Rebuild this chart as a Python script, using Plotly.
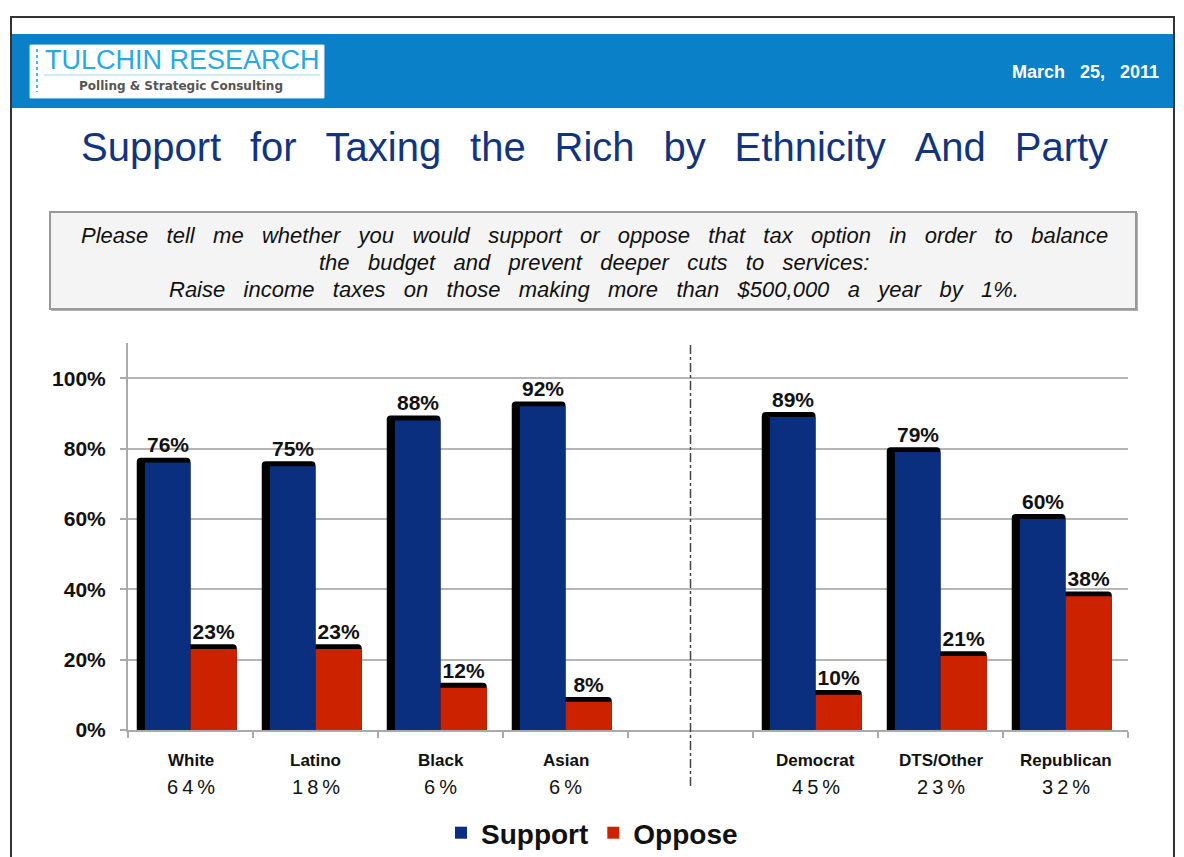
import plotly.graph_objects as go

categories = ["White", "Latino", "Black", "Asian", "", "Democrat", "DTS/Other", "Republican"]
shares = ["64%", "18%", "6%", "6%", "", "45%", "23%", "32%"]
support = [76, 75, 88, 92, None, 89, 79, 60]
oppose = [23, 23, 12, 8, None, 10, 21, 38]
y_ticks = [0, 20, 40, 60, 80, 100]
y_tick_labels = ["0%", "20%", "40%", "60%", "80%", "100%"]

BLUE = "#0a2f7f"
RED = "#cc2200"
SHADOW = 1.4  # thickness of the black top band, in % units

W, H = 1184, 857
L, R, T, B = 128, 56, 343, 127
PW, PH = W - L - R, H - T - B


def px(x):
    return (x - L) / PW


def py(y):
    return (H - B - y) / PH


def spaced(s, gap):
    return s.replace(" ", gap)


xs = list(range(len(categories)))
sup_sh = [None if v is None else v + SHADOW for v in support]
opp_sh = [None if v is None else v + SHADOW for v in oppose]

fig = go.Figure()
# black "3D" backing bars
fig.add_trace(go.Bar(x=xs, y=sup_sh, offset=-0.43, width=0.43, marker=dict(color="black", cornerradius=4, line_width=0),
                     showlegend=False, hoverinfo="skip"))
fig.add_trace(go.Bar(x=xs, y=opp_sh, offset=-0.06, width=0.43, marker=dict(color="black", cornerradius=4, line_width=0),
                     showlegend=False, hoverinfo="skip"))
# coloured bars
fig.add_trace(go.Bar(x=xs, y=support, name="Support", offset=-0.365, width=0.365,
                     marker=dict(color=BLUE, line_width=0)))
fig.add_trace(go.Bar(x=xs, y=oppose, name="Oppose", offset=0.0, width=0.37,
                     marker=dict(color=RED, line_width=0)))
# value labels
fig.add_trace(go.Scatter(x=[i - 0.18 for i in xs], y=sup_sh, mode="text",
                         text=[None if v is None else f"<b>{v}%</b>" for v in support], textposition="top center",
                         textfont=dict(family="Arial", size=21, color="#111"), showlegend=False, hoverinfo="skip",
                         cliponaxis=False))
fig.add_trace(go.Scatter(x=[i + 0.185 for i in xs], y=opp_sh, mode="text",
                         text=[None if v is None else f"<b>{v}%</b>" for v in oppose], textposition="top center",
                         textfont=dict(family="Arial", size=21, color="#111"), showlegend=False, hoverinfo="skip",
                         cliponaxis=False))

shapes = []
annotations = []

# slide frame
shapes.append(dict(type="rect", xref="paper", yref="paper", x0=px(11), x1=px(1174), y0=py(17), y1=py(880),
                   line=dict(color="#333", width=2), fillcolor="rgba(0,0,0,0)", layer="below"))
# header band
shapes.append(dict(type="rect", xref="paper", yref="paper", x0=px(12), x1=px(1173), y0=py(34), y1=py(108),
                   line=dict(width=0), fillcolor="#0a80c8", layer="below"))
# logo box
shapes.append(dict(type="rect", xref="paper", yref="paper", x0=px(30), x1=px(324), y0=py(45), y1=py(98),
                   line=dict(color="#dfeaf5", width=1), fillcolor="white", layer="below"))
shapes.append(dict(type="line", xref="paper", yref="paper", x0=px(44), x1=px(320), y0=py(75), y1=py(75),
                   line=dict(color="#9fd6f2", width=1)))
shapes.append(dict(type="line", xref="paper", yref="paper", x0=px(37), x1=px(37), y0=py(49), y1=py(92),
                   line=dict(color="#4db8ea", width=2, dash="dot")))
# question box
shapes.append(dict(type="rect", xref="paper", yref="paper", x0=px(51), x1=px(1138), y0=py(213), y1=py(311),
                   line=dict(width=0), fillcolor="#b0b0b0", layer="below"))
shapes.append(dict(type="rect", xref="paper", yref="paper", x0=px(50), x1=px(1136), y0=py(212), y1=py(309),
                   line=dict(color="#999999", width=2), fillcolor="#f4f4f4", layer="below"))
# dash-dot divider between ethnicity and party groups
shapes.append(dict(type="line", xref="x", yref="paper", x0=4, x1=4, y0=py(786), y1=1.0,
                   line=dict(color="#444", width=1.5, dash="dashdot")))

annotations.append(dict(xref="paper", yref="paper", x=px(182), y=py(60), text="TULCHIN RESEARCH", showarrow=False,
                        font=dict(family="Arial", size=27, color="#27a9e1"), xanchor="center", yanchor="middle"))
annotations.append(dict(xref="paper", yref="paper", x=px(181), y=py(86),
                        text="<b>Polling &amp; Strategic Consulting</b>", showarrow=False,
                        font=dict(family="DejaVu Sans", size=12, color="#555"), xanchor="center", yanchor="middle"))
annotations.append(dict(xref="paper", yref="paper", x=px(1161), y=py(72),
                        text="<b>" + spaced("March 25, 2011", "\u00a0\u00a0\u00a0") + "</b>", showarrow=False,
                        font=dict(family="Arial", size=18, color="white"), xanchor="right", yanchor="middle"))
title = spaced("Support for Taxing the Rich by Ethnicity And Party", " \u00a0\u2006")
annotations.append(dict(xref="paper", yref="paper", x=px(594), y=py(147), text=title, showarrow=False,
                        font=dict(family="Arial", size=40, color="#12347f"), xanchor="center", yanchor="middle"))
q_lines = [
    "Please tell me whether you would support or oppose that tax option in order to balance",
    "the budget and prevent deeper cuts to services:",
    "Raise income taxes on those making more than $500,000 a year by 1%.",
]
for txt, yy in zip(q_lines, [235, 262, 289]):
    annotations.append(dict(xref="paper", yref="paper", x=px(594), y=py(yy),
                            text="<i>" + spaced(txt, " \u00a0\u00a0") + "</i>", showarrow=False,
                            font=dict(family="Arial", size=22, color="#111"), xanchor="center", yanchor="middle"))
# category names and population shares
for i, (c, s) in enumerate(zip(categories, shares)):
    if not c:
        continue
    annotations.append(dict(xref="x", yref="paper", x=i, y=py(760), text=f"<b>{c}</b>", showarrow=False,
                            font=dict(family="Arial", size=17, color="#111"), xanchor="center", yanchor="middle"))
    annotations.append(dict(xref="x", yref="paper", x=i, y=py(787), text="\u2009".join(s), showarrow=False,
                            font=dict(family="Arial", size=20, color="#111"), xanchor="center", yanchor="middle"))

fig.update_layout(
    width=W, height=H,
    margin=dict(l=L, r=R, t=T, b=B, autoexpand=False),
    paper_bgcolor="white", plot_bgcolor="white",
    barmode="overlay",
    showlegend=True,
    legend=dict(orientation="h", x=px(592), xanchor="center",
                y=py(833), yanchor="middle", font=dict(family="Arial", size=28, color="#111", weight="bold"),
                itemwidth=30, traceorder="normal", bgcolor="rgba(0,0,0,0)"),
    shapes=shapes,
    annotations=annotations,
    font=dict(family="Arial"),
)
fig.update_xaxes(range=[-0.5, 7.5], tickvals=xs, ticktext=["" for _ in xs], ticks="", showgrid=False,
                 showline=True, linecolor="#aaa", linewidth=2, zeroline=False,
                 minor=dict(tick0=0.5, dtick=1, ticks="outside", ticklen=6, tickcolor="#aaa", tickwidth=2, showgrid=False))
fig.update_yaxes(range=[0, 110], tickvals=y_ticks, ticktext=[f"<b>{t}</b>" for t in y_tick_labels],
                 tickfont=dict(family="Arial", size=21, color="#111"), showgrid=True, gridcolor="#b5b5b5", gridwidth=2,
                 showline=True, linecolor="#aaa", linewidth=2, ticks="outside", ticklen=6, tickcolor="#aaa",
                 tickwidth=2, zeroline=False, ticklabelstandoff=10)

fig.write_html("out.html")
